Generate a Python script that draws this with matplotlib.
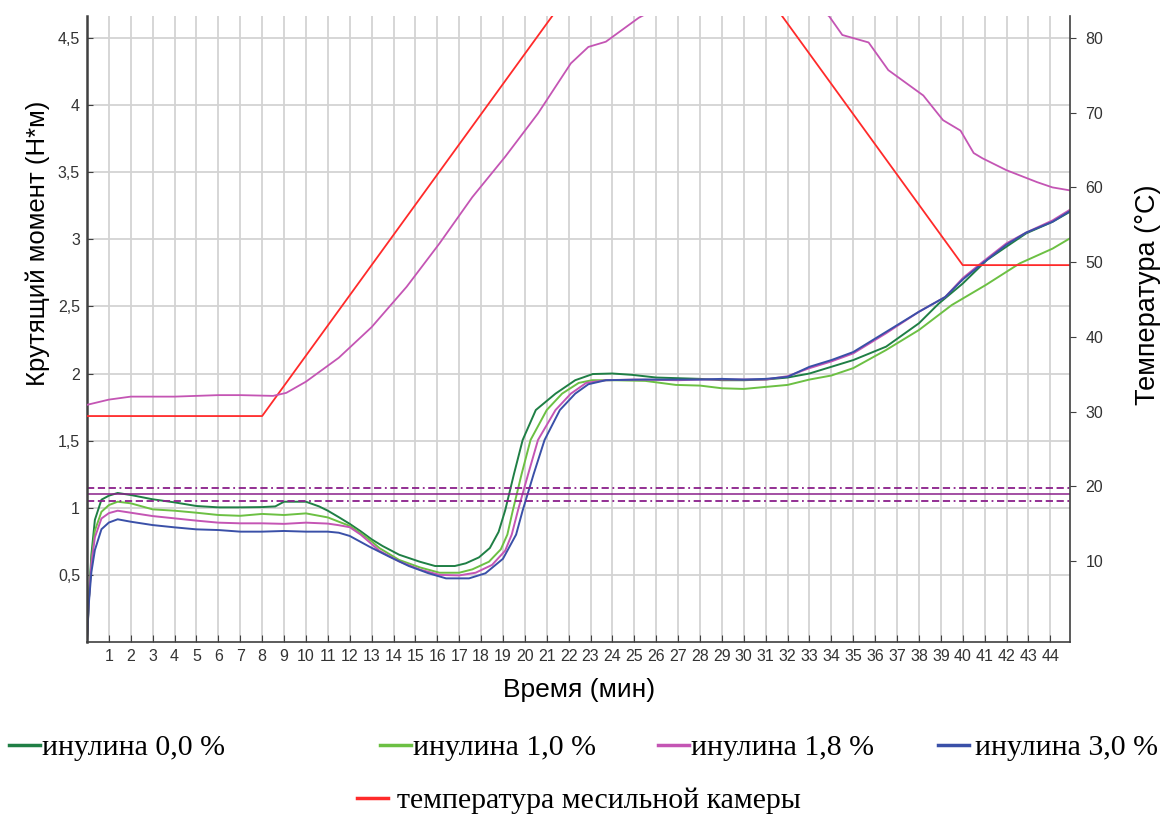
import matplotlib
matplotlib.use("Agg")
import matplotlib.pyplot as plt
from matplotlib.ticker import FuncFormatter

plt.rcParams["font.family"] = ["Liberation Sans", "DejaVu Sans"]

# ---------------------------
# Data
# ---------------------------
# torque, inulin 0.0 %
t_00 = [0, 0.08, 0.2, 0.36, 0.66, 1.0, 1.4, 2, 3, 4, 5, 6, 7, 8, 8.6, 9, 10, 10.6, 11, 11.5,
        12, 12.5, 13, 13.5, 14.26, 15.2, 15.9, 16.8, 17.3, 17.9, 18.4, 18.8, 19.1, 19.5, 19.9,
        20.5, 21.4, 22.3, 23.1, 24.0, 24.9, 26, 27, 28, 29, 30, 31, 32, 33, 34, 35, 36.5, 38,
        38.9, 40, 41.1, 42, 42.9, 44.1, 44.9]
m_00 = [0.03, 0.3, 0.65, 0.91, 1.06, 1.09, 1.11, 1.095, 1.063, 1.04, 1.013, 1.003, 1.003, 1.005,
        1.01, 1.045, 1.045, 1.01, 0.978, 0.93, 0.88, 0.825, 0.765, 0.715, 0.65, 0.598, 0.566,
        0.566, 0.586, 0.63, 0.7, 0.82, 0.98, 1.25, 1.505, 1.728, 1.85, 1.95, 1.996, 2.0, 1.99,
        1.97, 1.965, 1.96, 1.95, 1.95, 1.955, 1.97, 2.0, 2.05, 2.1, 2.2, 2.374, 2.52, 2.67,
        2.845, 2.945, 3.044, 3.13, 3.205]

# torque, inulin 1.0 %
t_10 = [0, 0.08, 0.2, 0.36, 0.66, 1.0, 1.4, 2, 3, 4, 5, 6, 7, 8, 9, 10, 11, 11.5, 12, 12.5, 13,
        13.35, 14.26, 15.2, 16.1, 17.0, 17.6, 18.36, 18.9, 19.2, 19.45, 19.85, 20.26, 21.0, 21.7,
        22.46, 23.07, 24.0, 25.5, 26.9, 28, 29, 30, 31, 32, 33, 34, 35, 36.5, 38, 39.5, 41.06,
        42.6, 44.1, 44.9]
m_10 = [0.0, 0.3, 0.6, 0.83, 0.97, 1.02, 1.045, 1.033, 0.988, 0.978, 0.963, 0.946, 0.94, 0.954,
        0.946, 0.958, 0.928, 0.896, 0.865, 0.81, 0.75, 0.7, 0.611, 0.556, 0.516, 0.516, 0.541,
        0.598, 0.69, 0.8, 0.98, 1.25, 1.505, 1.728, 1.85, 1.93, 1.95, 1.95, 1.945, 1.915, 1.91,
        1.89, 1.885, 1.9, 1.915, 1.955, 1.985, 2.04, 2.175, 2.324, 2.51, 2.66, 2.82, 2.93, 3.007]

# torque, inulin 1.8 %
t_18 = [0, 0.08, 0.2, 0.36, 0.66, 1.0, 1.4, 2, 3, 4, 5, 6, 7, 8, 9, 10, 11, 11.5, 12, 12.5, 13,
        13.35, 14.26, 15.2, 16.1, 17.0, 17.75, 18.5, 19.1, 19.4, 19.7, 20.15, 20.6, 21.4, 22.1,
        22.8, 23.7, 25, 27, 28, 29, 30, 31, 32, 33, 34, 35, 36.5, 38, 39.2, 40, 40.9, 42, 42.9,
        44.1, 44.9]
m_18 = [0.0, 0.3, 0.58, 0.78, 0.92, 0.96, 0.978, 0.963, 0.938, 0.921, 0.904, 0.889, 0.884, 0.884,
        0.88, 0.889, 0.882, 0.87, 0.855, 0.8, 0.73, 0.68, 0.6, 0.54, 0.5, 0.496, 0.516, 0.574,
        0.68, 0.8, 0.99, 1.25, 1.505, 1.728, 1.85, 1.93, 1.95, 1.955, 1.95, 1.955, 1.955, 1.955,
        1.955, 1.98, 2.04, 2.09, 2.15, 2.3, 2.46, 2.57, 2.71, 2.83, 2.97, 3.05, 3.14, 3.22]

# torque, inulin 3.0 %
t_30 = [0, 0.08, 0.2, 0.36, 0.66, 1.0, 1.4, 2, 3, 4, 5, 6, 7, 8, 9, 10, 11, 11.5, 12, 12.9,
        13.8, 14.7, 15.6, 16.4, 17.45, 18.2, 19.0, 19.6, 19.9, 20.4, 20.9, 21.6, 22.3, 22.9,
        23.7, 25.5, 27, 28, 29, 30, 31, 32, 33, 34, 35, 36.5, 38, 39.2, 40, 40.9, 42, 42.9,
        44.1, 44.9]
m_30 = [0.0, 0.28, 0.52, 0.685, 0.84, 0.89, 0.914, 0.896, 0.871, 0.854, 0.839, 0.834, 0.822,
        0.822, 0.827, 0.822, 0.822, 0.814, 0.79, 0.71, 0.636, 0.566, 0.512, 0.474, 0.474, 0.512,
        0.62, 0.8, 0.98, 1.25, 1.505, 1.728, 1.85, 1.92, 1.95, 1.955, 1.955, 1.955, 1.96, 1.955,
        1.96, 1.975, 2.05, 2.1, 2.16, 2.31, 2.46, 2.57, 2.7, 2.82, 2.96, 3.05, 3.13, 3.21]

# mixing chamber temperature (right axis)
t_temp = [0, 8, 23, 30, 40, 44.9]
temp_chamber = [29.4, 29.4, 90, 90, 49.6, 49.6]

# dough temperature (right axis, magenta, not in legend)
t_dough = [0, 1, 2, 4, 6, 7, 8.5, 9.1, 10.0, 11.5, 13.0, 14.6, 16.1, 17.6, 19.1, 20.6, 22.1,
           22.9, 23.7, 25.2, 27, 29, 31, 33, 33.9, 34.5, 35.7, 36.6, 38.2, 39.1, 39.9, 40.5,
           40.9, 42.0, 43.4, 44.1, 44.9]
temp_dough = [30.9, 31.6, 32.0, 32.0, 32.2, 32.2, 32.1, 32.5, 34.0, 37.2, 41.3, 46.7, 52.5, 58.7,
              64.1, 69.9, 76.6, 78.8, 79.5, 82.7, 85.5, 87, 87, 85, 82.9, 80.4, 79.4, 75.7, 72.3,
              69.0, 67.6, 64.6, 63.9, 62.3, 60.7, 60.0, 59.6]

# target band for C1
c1_target = 1.10
c1_band = [1.05, 1.15]

labels = ["инулина 0,0 %", "инулина 1,0 %", "инулина 1,8 %", "инулина 3,0 %"]
colors = ["#1f7f45", "#6cc043", "#c455b4", "#3a50a8"]
red = "#ff2a2a"

# ---------------------------
# Figure
# ---------------------------
W, H = 1167, 816
fig = plt.figure(figsize=(W / 100, H / 100), dpi=100)
ax = fig.add_axes([87 / W, 1 - 642 / H, 983 / W, 626 / H])
ax2 = ax.twinx()

ax.set_xlim(0, 44.9)
ax.set_ylim(0, 4.663)
ax2.set_ylim(-0.84, 82.94)

ax.set_axisbelow(True)
ax.grid(True, color="#d3d3d3", lw=1.3)

curves = []
for t, m, c in zip([t_00, t_10, t_18, t_30], [m_00, m_10, m_18, m_30], colors):
    ln, = ax.plot(t, m, color=c, lw=1.4)
    curves.append(ln)

ax.axhline(c1_target, color="#8a1f8a", lw=1.1)
for v in c1_band:
    ax.axhline(v, color="#8a1f8a", lw=1.3, ls=(0, (4, 2, 4, 2, 4, 2, 1, 2)))

temp_line, = ax2.plot(t_temp, temp_chamber, color=red, lw=1.3)
ax2.plot(t_dough, temp_dough, color="#c455b4", lw=1.3)

# ticks
ax.set_xticks(range(1, 45))
ax.set_yticks([0.5, 1, 1.5, 2, 2.5, 3, 3.5, 4, 4.5])
ax.yaxis.set_major_formatter(FuncFormatter(lambda v, p: f"{v:g}".replace(".", ",")))
ax2.set_yticks(range(10, 90, 10))

ax.tick_params(axis="both", labelsize=11.5, labelcolor="#333333", color="#404040")
ax.tick_params(axis="y", direction="in", length=4, pad=5)
ax.tick_params(axis="x", direction="in", length=5, pad=5)
ax2.tick_params(axis="y", direction="out", length=4, pad=7, labelsize=11.5,
                labelcolor="#333333", color="#404040")

for s in ["top", "right"]:
    ax.spines[s].set_visible(False)
for s in ["top", "left", "bottom"]:
    ax2.spines[s].set_visible(False)
ax.spines["left"].set_linewidth(1.8)
ax.spines["left"].set_color("#404040")
ax.spines["bottom"].set_linewidth(1.2)
ax.spines["bottom"].set_color("#404040")
ax2.spines["right"].set_linewidth(1.2)
ax2.spines["right"].set_color("#404040")

# axis titles
fig.text(38 / W, 1 - 243 / H, "Крутящий момент (Н*м)", rotation=90,
         ha="center", va="center", fontsize=18.5)
fig.text(1148 / W, 1 - 295 / H, "Температура (°C)", rotation=90,
         ha="center", va="center", fontsize=19.5)
fig.text(579 / W, 1 - 690 / H, "Время (мин)", ha="center", va="center", fontsize=19)

# ---------------------------
# Legend, placed item by item
# ---------------------------
leg_font = {"family": "Liberation Serif", "size": 21.5}
items = [(curves[0], labels[0], 9, 748, 0.05),
         (curves[1], labels[1], 380, 748, 0.05),
         (curves[2], labels[2], 658, 748, 0.05),
         (curves[3], labels[3], 938, 748, 0.2),
         (temp_line, "температура месильной камеры", 357, 801, 0.3)]
for h, lab, x, y, pad in items:
    lg = fig.legend([h], [lab], loc="center left", bbox_to_anchor=(x / W, 1 - y / H),
                    frameon=False, prop=leg_font, handlelength=1.05,
                    handletextpad=pad, borderpad=0, borderaxespad=0)
    for line in lg.get_lines():
        line.set_linewidth(2.5)

fig.savefig("out.png", dpi=100)
